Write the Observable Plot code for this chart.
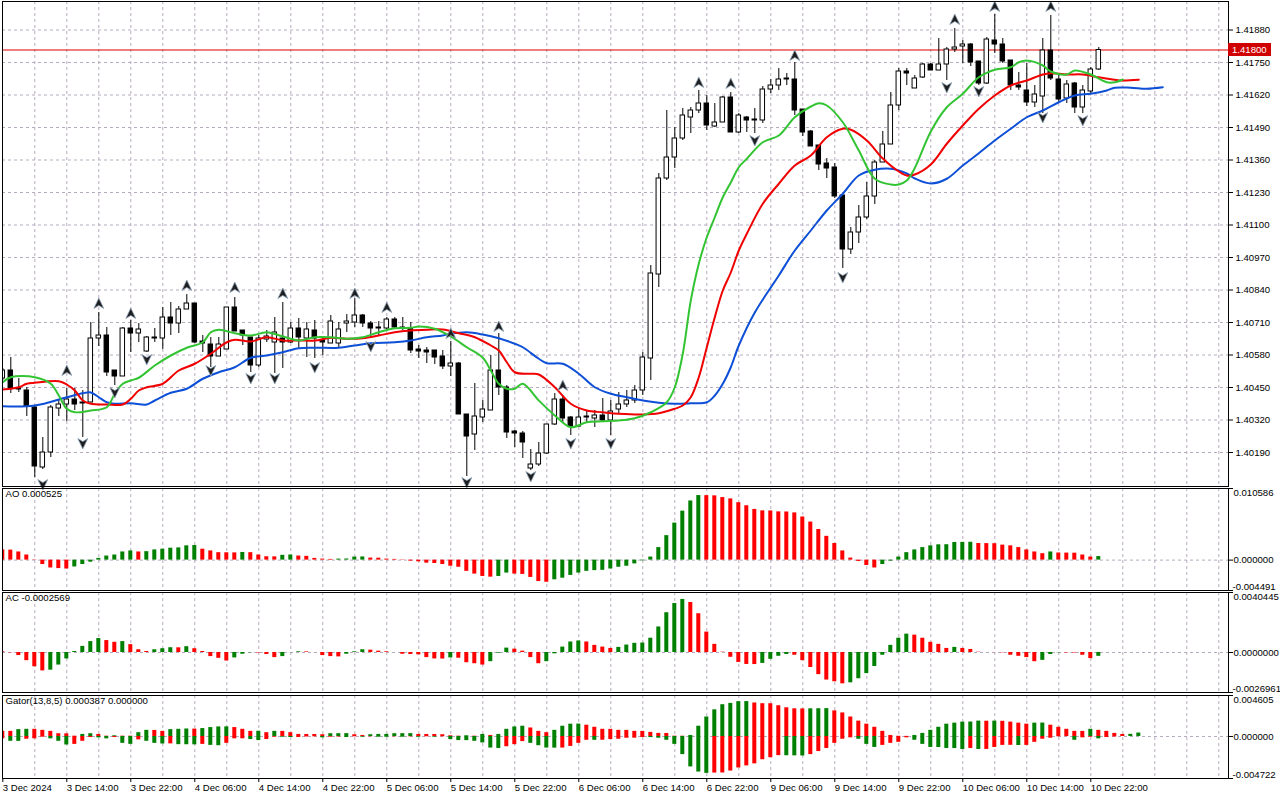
<!DOCTYPE html>
<html><head><meta charset="utf-8">
<script src="https://cdn.jsdelivr.net/npm/d3@7"></script>
<script src="https://cdn.jsdelivr.net/npm/@observablehq/plot@0.6"></script>
<style>
body{margin:0;background:#fff;}
#chart{position:relative;width:1280px;height:800px;background:#fff;overflow:hidden;}
#chart svg{position:absolute;left:0;}
</style></head><body><div id="chart"></div>
<script>
// ---------- DATA (hourly bars, 3 Dec 06:00 .. 10 Dec 23:00) ----------
const open=[1.40486,1.40518,1.40446,1.40438,1.40370,1.40130,1.40190,1.40366,1.40382,1.40402,
1.40386,1.40390,1.40646,1.40658,1.40518,1.40494,1.40686,1.40666,1.40594,1.40646,
1.40646,1.40730,1.40706,1.40762,1.40786,1.40634,1.40622,1.40574,1.40602,1.40770,
1.40678,1.40650,1.40538,1.40642,1.40630,1.40646,1.40630,1.40686,1.40646,1.40678,
1.40638,1.40626,1.40626,1.40706,1.40710,1.40738,1.40706,1.40686,1.40686,1.40722,
1.40690,1.40686,1.40602,1.40598,1.40598,1.40574,1.40534,1.40546,1.40342,1.40262,
1.40330,1.40358,1.40518,1.40450,1.40274,1.40266,1.40126,1.40142,1.40186,1.40302,
1.40402,1.40330,1.40294,1.40330,1.40326,1.40338,1.40318,1.40362,1.40382,1.40398,
1.40438,1.40566,1.40902,1.41286,1.41370,1.41446,1.41530,1.41558,1.41586,1.41494,
1.41510,1.41610,1.41470,1.41530,1.41522,1.41518,1.41642,1.41658,1.41682,1.41682,
1.41562,1.41474,1.41418,1.41346,1.41330,1.41218,1.41002,1.41070,1.41130,1.41214,
1.41350,1.41422,1.41578,1.41714,1.41646,1.41690,1.41742,1.41718,1.41742,1.41802,
1.41814,1.41822,1.41754,1.41666,1.41838,1.41822,1.41758,1.41658,1.41638,1.41590,
1.41614,1.41798,1.41682,1.41606,1.41666,1.41570,1.41634,1.41722];
const high=[1.40526,1.40570,1.40486,1.40450,1.40378,1.40250,1.40378,1.40398,1.40446,1.40446,
1.40438,1.40710,1.40750,1.40690,1.40518,1.40690,1.40718,1.40706,1.40654,1.40686,
1.40770,1.40790,1.40774,1.40822,1.40786,1.40658,1.40650,1.40650,1.40770,1.40810,
1.40678,1.40650,1.40658,1.40678,1.40730,1.40790,1.40710,1.40726,1.40710,1.40718,
1.40646,1.40738,1.40710,1.40742,1.40806,1.40742,1.40714,1.40714,1.40730,1.40730,
1.40730,1.40710,1.40618,1.40610,1.40598,1.40598,1.40634,1.40550,1.40342,1.40466,
1.40398,1.40578,1.40666,1.40458,1.40278,1.40274,1.40202,1.40230,1.40302,1.40426,
1.40418,1.40334,1.40366,1.40358,1.40358,1.40406,1.40398,1.40430,1.40438,1.40458,
1.40590,1.40938,1.41306,1.41558,1.41490,1.41566,1.41570,1.41638,1.41618,1.41586,
1.41614,1.41630,1.41546,1.41534,1.41566,1.41654,1.41682,1.41726,1.41706,1.41750,
1.41562,1.41478,1.41418,1.41366,1.41346,1.41218,1.41090,1.41178,1.41270,1.41358,
1.41474,1.41630,1.41726,1.41726,1.41698,1.41746,1.41746,1.41846,1.41810,1.41886,
1.41838,1.41826,1.41754,1.41850,1.41942,1.41846,1.41758,1.41710,1.41746,1.41658,
1.41846,1.41938,1.41698,1.41678,1.41670,1.41658,1.41730,1.41810];
const low=[1.40478,1.40426,1.40430,1.40334,1.40090,1.40122,1.40170,1.40334,1.40314,1.40358,
1.40250,1.40390,1.40614,1.40494,1.40458,1.40494,1.40590,1.40630,1.40590,1.40630,
1.40602,1.40658,1.40666,1.40762,1.40626,1.40590,1.40530,1.40574,1.40602,1.40674,
1.40618,1.40510,1.40530,1.40630,1.40506,1.40526,1.40626,1.40606,1.40570,1.40566,
1.40578,1.40626,1.40610,1.40670,1.40690,1.40690,1.40650,1.40658,1.40678,1.40686,
1.40678,1.40586,1.40566,1.40546,1.40542,1.40522,1.40494,1.40342,1.40094,1.40198,
1.40310,1.40358,1.40418,1.40246,1.40210,1.40166,1.40118,1.40134,1.40182,1.40298,
1.40306,1.40258,1.40290,1.40310,1.40290,1.40310,1.40258,1.40346,1.40370,1.40386,
1.40418,1.40478,1.40850,1.41278,1.41326,1.41438,1.41466,1.41546,1.41478,1.41490,
1.41510,1.41470,1.41466,1.41470,1.41466,1.41506,1.41626,1.41638,1.41658,1.41538,
1.41454,1.41414,1.41318,1.41286,1.41206,1.40926,1.40982,1.41026,1.41122,1.41182,
1.41350,1.41422,1.41558,1.41658,1.41646,1.41686,1.41718,1.41718,1.41678,1.41790,
1.41746,1.41734,1.41658,1.41662,1.41786,1.41746,1.41638,1.41638,1.41574,1.41570,
1.41546,1.41678,1.41590,1.41586,1.41546,1.41546,1.41626,1.41718];
const close=[1.40518,1.40446,1.40442,1.40374,1.40134,1.40190,1.40370,1.40382,1.40402,1.40382,
1.40390,1.40646,1.40658,1.40510,1.40494,1.40686,1.40666,1.40682,1.40650,1.40650,
1.40730,1.40706,1.40762,1.40786,1.40630,1.40626,1.40574,1.40622,1.40770,1.40674,
1.40658,1.40538,1.40646,1.40654,1.40670,1.40630,1.40686,1.40650,1.40682,1.40646,
1.40630,1.40714,1.40682,1.40714,1.40738,1.40706,1.40686,1.40690,1.40722,1.40690,
1.40686,1.40598,1.40594,1.40590,1.40570,1.40534,1.40546,1.40342,1.40254,1.40334,
1.40362,1.40518,1.40450,1.40270,1.40266,1.40230,1.40142,1.40186,1.40302,1.40402,
1.40326,1.40294,1.40330,1.40334,1.40338,1.40318,1.40354,1.40382,1.40398,1.40438,
1.40570,1.40906,1.41286,1.41370,1.41446,1.41538,1.41558,1.41586,1.41498,1.41510,
1.41610,1.41470,1.41538,1.41518,1.41518,1.41642,1.41658,1.41682,1.41686,1.41558,
1.41470,1.41414,1.41342,1.41326,1.41214,1.41002,1.41070,1.41130,1.41214,1.41350,
1.41422,1.41578,1.41714,1.41706,1.41686,1.41742,1.41718,1.41742,1.41802,1.41810,
1.41822,1.41750,1.41666,1.41842,1.41822,1.41754,1.41658,1.41650,1.41590,1.41622,
1.41798,1.41686,1.41602,1.41662,1.41570,1.41638,1.41722,1.41800];

// Alligator (read at sampled bars; lines run past the last bar because of their shifts)
const jawIdx=[0,4,8,10,11,12,13,14,16,18,19,21,23,25,27,29,31,33,35,37,39,42,44,46,49,51,53,55,56,58,60,62,64,65,67,68,70,72,74,76,78,80,82,84,86,88,89,90,91,92,94,97,99,101,103,105,107,109,111,113,114,116,118,120,122,124,126,128,130,132,134,136,138,139,141,143,145];
const jawVal=[1.40375,1.40378,1.40411,1.40427,1.40430,1.40411,1.40391,1.40385,1.40387,1.40382,1.40398,1.40429,1.40445,1.40485,1.40511,1.40531,1.40569,1.40578,1.40591,1.40607,1.40609,1.40609,1.40618,1.40627,1.40631,1.40638,1.40651,1.40658,1.40665,1.40671,1.40662,1.40647,1.40625,1.40611,1.40565,1.40547,1.40545,1.40505,1.40451,1.40425,1.40411,1.40398,1.40389,1.40385,1.40387,1.40391,1.40418,1.40465,1.40531,1.40618,1.40750,1.40898,1.40998,1.41078,1.41158,1.41225,1.41298,1.41321,1.41325,1.41306,1.41286,1.41266,1.41285,1.41338,1.41387,1.41438,1.41485,1.41531,1.41558,1.41591,1.41618,1.41625,1.41638,1.41649,1.41649,1.41645,1.41651];
const teethIdx=[0,2,3,4,7,8,9,10,11,13,15,16,17,18,20,22,24,26,28,29,31,33,35,37,39,41,43,45,47,49,51,53,55,57,59,61,62,63,64,66,67,69,71,73,75,77,80,82,84,85,86,87,88,89,90,91,92,93,95,97,99,101,103,105,106,108,110,112,113,114,116,118,120,122,124,126,128,130,131,133,135,137,139,140,142];
const teethVal=[1.40442,1.40451,1.40465,1.40469,1.40475,1.40462,1.40438,1.40398,1.40385,1.40382,1.40382,1.40405,1.40438,1.40451,1.40465,1.40518,1.40545,1.40585,1.40631,1.40641,1.40634,1.40651,1.40638,1.40638,1.40638,1.40649,1.40645,1.40647,1.40658,1.40671,1.40678,1.40681,1.40682,1.40667,1.40651,1.40618,1.40598,1.40551,1.40511,1.40505,1.40502,1.40451,1.40385,1.40358,1.40351,1.40345,1.40342,1.40347,1.40365,1.40378,1.40411,1.40491,1.40611,1.40731,1.40838,1.40910,1.40998,1.41065,1.41185,1.41265,1.41338,1.41378,1.41451,1.41485,1.41481,1.41438,1.41366,1.41314,1.41298,1.41302,1.41342,1.41425,1.41498,1.41565,1.41618,1.41658,1.41678,1.41702,1.41707,1.41702,1.41702,1.41691,1.41681,1.41678,1.41681];
const lipsIdx=[0,1,4,6,7,8,9,11,13,14,15,16,17,19,21,23,25,26,27,29,31,33,35,37,39,41,43,45,47,49,51,52,54,56,58,60,61,62,63,64,65,67,69,71,73,75,77,79,81,83,84,85,86,87,88,89,90,91,92,93,95,97,99,101,102,103,105,107,109,111,112,113,114,116,118,120,122,124,126,127,128,130,131,133,134,136,138,139,140];
const lipsVal=[1.40471,1.40491,1.40491,1.40465,1.40418,1.40365,1.40351,1.40358,1.40371,1.40425,1.40465,1.40478,1.40489,1.40538,1.40578,1.40609,1.40631,1.40671,1.40681,1.40667,1.40658,1.40671,1.40654,1.40638,1.40651,1.40651,1.40645,1.40651,1.40671,1.40687,1.40689,1.40694,1.40685,1.40654,1.40611,1.40569,1.40518,1.40465,1.40445,1.40445,1.40465,1.40398,1.40338,1.40291,1.40311,1.40315,1.40318,1.40327,1.40351,1.40391,1.40451,1.40585,1.40798,1.40945,1.41051,1.41131,1.41211,1.41270,1.41331,1.41365,1.41431,1.41458,1.41531,1.41574,1.41587,1.41578,1.41511,1.41398,1.41285,1.41262,1.41262,1.41278,1.41328,1.41474,1.41571,1.41625,1.41691,1.41721,1.41731,1.41751,1.41758,1.41738,1.41714,1.41702,1.41718,1.41702,1.41671,1.41671,1.41682];

// Fractals (arrow positions)
const fracUpIdx=[8,12,16,23,29,35,44,48,56,62,70,87,91,99,119,124,131];
const fracUpVal=[1.40518,1.40786,1.40746,1.40858,1.40850,1.40826,1.40826,1.40770,1.40666,1.40694,1.40458,1.41670,1.41666,1.41778,1.41922,1.41974,1.41974];
const fracDnIdx=[5,10,14,18,26,31,34,39,46,58,66,71,76,94,105,118,122,130,135];
const fracDnVal=[1.40062,1.40226,1.40430,1.40562,1.40518,1.40486,1.40486,1.40530,1.40614,1.40070,1.40094,1.40226,1.40226,1.41438,1.40890,1.41650,1.41634,1.41530,1.41518];

// Awesome Oscillator
const ao=[0.001508,0.001477,0.001206,0.000754,-0.000045,-0.000648,-0.001161,-0.001251,-0.001312,-0.001010,
-0.000648,-0.000302,0.000256,0.000603,0.000754,0.001206,0.001357,0.001206,0.001251,0.001508,
0.001613,0.001764,0.001809,0.002111,0.002156,0.001613,0.001357,0.001101,0.001085,0.001070,
0.001131,0.001101,0.000754,0.000498,0.000482,0.000709,0.000754,0.000603,0.000558,0.000256,
0.000151,0.000106,0.000151,0.000166,0.000452,0.000467,0.000302,0.000286,0.000151,0.000106,
-0.000045,-0.000151,-0.000256,-0.000452,-0.000498,-0.000648,-0.000905,-0.001055,-0.001658,-0.002065,
-0.002412,-0.002518,-0.002412,-0.001915,-0.002065,-0.002111,-0.002563,-0.003166,-0.003272,-0.002910,
-0.002668,-0.002261,-0.001915,-0.001658,-0.001553,-0.001508,-0.001312,-0.001055,-0.000905,-0.000558,
-0.000106,0.000452,0.001854,0.003618,0.005473,0.007236,0.008744,0.009543,0.009528,0.009498,
0.009242,0.009046,0.008488,0.008035,0.007493,0.007282,0.007267,0.007131,0.007116,0.006980,
0.006377,0.005623,0.004523,0.003513,0.002457,0.001357,0.000302,-0.000196,-0.000799,-0.001161,
-0.000648,-0.000151,0.000452,0.001101,0.001508,0.001854,0.002111,0.002261,0.002276,0.002608,
0.002623,0.002638,0.002457,0.002442,0.002427,0.002216,0.002111,0.001854,0.001508,0.001206,
0.000950,0.001206,0.001055,0.001040,0.001025,0.000754,0.000452,0.000525];
// Accelerator Oscillator
const ac=[0.0000481,-0.0000206,-0.0002063,-0.0005502,-0.0009629,-0.0012380,-0.0011899,-0.0008460,-0.0004333,0.0000688,
0.0004127,0.0007359,0.0009423,0.0008047,0.0006878,0.0007359,0.0005296,0.0001857,0.0000688,0.0001857,
0.0002545,0.0003233,0.0003164,0.0003920,0.0002545,0.0000688,-0.0002751,-0.0003920,-0.0005709,-0.0003645,
-0.0001169,-0.0000206,-0.0000344,-0.0001376,-0.0003439,-0.0002751,-0.0000069,0.0000481,0.0000413,-0.0000020,
-0.0002063,-0.0002751,-0.0002958,-0.0001169,0.0000481,0.0001857,0.0001582,0.0000894,0.0000481,0.0000000,
-0.0001169,-0.0001376,-0.0001582,-0.0003439,-0.0004333,-0.0004402,-0.0003645,-0.0003852,-0.0006878,-0.0007566,
-0.0008460,-0.0006190,-0.0000481,0.0002958,0.0002270,0.0000894,-0.0003439,-0.0007566,-0.0006190,-0.0000894,
0.0003645,0.0007084,0.0007772,0.0007084,0.0004815,0.0003645,0.0002751,0.0003439,0.0005021,0.0006190,
0.0006397,0.0009629,0.0017195,0.0026824,0.0033014,0.0035766,0.0033702,0.0026136,0.0013756,0.0005502,
0.0000206,-0.0003233,-0.0006672,-0.0008047,-0.0008116,-0.0007359,-0.0004608,-0.0002545,-0.0001376,-0.0001857,
-0.0005502,-0.0010111,-0.0014925,-0.0018571,-0.0019740,-0.0021115,-0.0020428,-0.0017676,-0.0014237,-0.0009423,
-0.0001857,0.0004815,0.0009629,0.0012380,0.0011693,0.0009629,0.0006878,0.0005502,0.0002751,0.0003439,
0.0002751,0.0002063,0.0000206,0.0000000,-0.0000069,-0.0000206,-0.0001857,-0.0002545,-0.0003439,-0.0006190,
-0.0005296,-0.0001376,-0.0000206,-0.0000275,-0.0000344,-0.0001857,-0.0004127,-0.0002569];
// Gator Oscillator (upper |jaw-teeth|, lower -|teeth-lips|)
const gatorUp=[0.000576,0.000576,0.000772,0.000806,0.000806,0.000691,0.000576,0.000311,0.000299,0.000035,
0.000230,0.000311,0.000230,0.000035,0.000081,0.000035,0.000035,0.000426,0.000691,0.000680,
0.000576,0.000772,0.000806,0.000841,0.000830,0.000887,0.001002,0.001071,0.001080,0.001002,
0.000806,0.000576,0.000590,0.000426,0.000576,0.000570,0.000426,0.000230,0.000225,0.000220,
0.000196,0.000311,0.000315,0.000320,0.000196,0.000115,0.000196,0.000230,0.000235,0.000311,
0.000315,0.000320,0.000230,0.000225,0.000220,0.000196,0.000081,0.000035,0.000081,0.000035,
0.000230,0.000115,0.000230,0.000806,0.001071,0.001152,0.000956,0.000576,0.000426,0.000691,
0.001152,0.001382,0.001393,0.001267,0.001036,0.000806,0.000800,0.000691,0.000685,0.000576,
0.000570,0.000461,0.000345,0.000340,0.000035,0.000030,0.000115,0.001152,0.002188,0.002994,
0.003570,0.003719,0.003915,0.003925,0.003765,0.003685,0.003680,0.003455,0.003224,0.003109,
0.003098,0.003109,0.003121,0.003132,0.002879,0.002648,0.002188,0.001727,0.001382,0.001036,
0.000576,0.000115,0.000023,0.000012,0.000115,0.000345,0.000691,0.001036,0.001382,0.001497,
0.001612,0.001624,0.001727,0.001716,0.001727,0.001704,0.001612,0.001497,0.001382,0.001497,
0.001508,0.001267,0.001036,0.000806,0.000576,0.000570,0.000806,0.000691,0.000576,0.000345,
0.000230,0.000242,0.000387];
const gatorDown=[-0.000265,-0.000541,-0.000550,-0.000311,-0.000265,-0.000081,-0.000265,-0.000541,-0.000956,-0.000887,
-0.000541,-0.000115,-0.000150,-0.000265,-0.000115,-0.000772,-0.000887,-0.000380,-0.000541,-0.000772,
-0.000841,-0.000830,-0.000921,-0.000930,-0.000940,-0.000887,-0.001002,-0.001036,-0.000772,-0.000265,
-0.000260,-0.000345,-0.000461,-0.000345,-0.000081,-0.000085,-0.000115,-0.000110,-0.000058,-0.000035,
-0.000150,-0.000081,-0.000058,-0.000115,-0.000035,-0.000081,-0.000035,-0.000081,-0.000085,-0.000035,
-0.000081,-0.000035,-0.000081,-0.000035,-0.000081,-0.000035,-0.000345,-0.000461,-0.000465,-0.000541,
-0.000725,-0.001301,-0.001347,-0.001152,-0.000921,-0.000576,-0.000772,-0.001036,-0.001301,-0.001310,
-0.001301,-0.001117,-0.000772,-0.000426,-0.000430,-0.000420,-0.000345,-0.000311,-0.000196,-0.000190,
-0.000115,-0.000120,-0.000196,-0.000426,-0.000887,-0.002038,-0.003420,-0.003996,-0.004145,-0.004111,
-0.004099,-0.003881,-0.003535,-0.003305,-0.003075,-0.002614,-0.002384,-0.002153,-0.002165,-0.002176,
-0.002188,-0.002038,-0.001693,-0.001347,-0.000772,-0.000311,-0.000150,-0.000311,-0.000887,-0.001232,
-0.001002,-0.000772,-0.000656,-0.000150,-0.000426,-0.000887,-0.001232,-0.001240,-0.001347,-0.001355,
-0.001462,-0.001347,-0.001462,-0.001455,-0.001232,-0.001002,-0.000995,-0.001013,-0.001002,-0.000656,
-0.000311,-0.000196,-0.000035,-0.000012,-0.000426,-0.000150,-0.000081,-0.000265,-0.000115,-0.000058,
0];

// Scale / tick labels
const priceTicks=[1.40190,1.40320,1.40450,1.40580,1.40710,1.40840,1.40970,1.41100,1.41230,1.41360,1.41490,1.41620,1.41750,1.41880];
const currentPrice=1.41800;
const aoRange=[-0.004491,0.010586], aoLabels=["-0.004491","0.000000","0.010586"];
const acRange=[-0.0026961,0.0040445], acLabels=["-0.0026961","0.0000000","0.0040445"];
const gatorRange=[-0.004722,0.004605], gatorLabels=["-0.004722","0.000000","0.004605"];
const dateTicks=[0,8,16,24,32,40,48,56,64,72,80,88,96,104,112,120,128,136];
const dateLabels=["3 Dec 2024","3 Dec 14:00","3 Dec 22:00","4 Dec 06:00","4 Dec 14:00","4 Dec 22:00","5 Dec 06:00","5 Dec 14:00","5 Dec 22:00","6 Dec 06:00","6 Dec 14:00","6 Dec 22:00","9 Dec 06:00","9 Dec 14:00","9 Dec 22:00","10 Dec 06:00","10 Dec 14:00","10 Dec 22:00"];
const gridBars=d3.range(4,153,4);

// ---------- RENDER ----------
const FONT="'Liberation Sans', Arial, sans-serif";
const FS=9.6;
const GRID="#b7abbf", GREEN="#008000", RED="#ff0000";
const xDomain=[-0.0375,153.2125];
const root=document.getElementById("chart");
function place(svg,top){svg.style.position="absolute";svg.style.top=top+"px";svg.style.left="0px";root.appendChild(svg);return svg;}
function baseOpts(height,mt,mb,ydom,xaxis){
  return {width:1280,height,marginLeft:2,marginRight:52,marginTop:mt,marginBottom:mb,
    x:xaxis?{domain:xDomain,label:null}:{domain:xDomain,axis:null,label:null},
    y:{domain:ydom,label:null},color:{type:"identity"},
    style:{fontFamily:FONT,fontSize:FS+"px",color:"#000",background:"transparent",overflow:"visible"}};
}
const candles=close.map((c,i)=>({i,o:open[i],h:high[i],l:low[i],c,up:c>=open[i]}));
const toPts=(idx,val)=>idx.map((i,k)=>({i,v:val[k]}));
const arrowUp={draw(ctx,size){const r=Math.sqrt(size/Math.PI);ctx.moveTo(0,-r);ctx.lineTo(0.9*r,0.9*r);ctx.lineTo(0,0.35*r);ctx.lineTo(-0.9*r,0.9*r);ctx.closePath();}};
const arrowDn={draw(ctx,size){const r=Math.sqrt(size/Math.PI);ctx.moveTo(0,r);ctx.lineTo(0.9*r,-0.9*r);ctx.lineTo(0,-0.35*r);ctx.lineTo(-0.9*r,-0.9*r);ctx.closePath();}};

const main=Plot.plot({...baseOpts(487,1,1,[1.40054,1.41994],false),
  marks:[
    Plot.ruleY(priceTicks,{stroke:GRID,strokeDasharray:"3,3"}),
    Plot.ruleX(gridBars,{stroke:GRID,strokeDasharray:"3,3"}),
    Plot.ruleY([currentPrice],{stroke:"#e00000"}),
    Plot.ruleX(candles,{x:"i",y1:"l",y2:"h",stroke:"#000",clip:true}),
    Plot.rect(candles,{x1:d=>d.i-0.28,x2:d=>d.i+0.28,y1:"o",y2:"c",fill:d=>d.up?"#fff":"#000",stroke:"#000",clip:true}),
    Plot.line(toPts(jawIdx,jawVal),{x:"i",y:"v",stroke:"#0d4fd6",strokeWidth:2,curve:"catmull-rom"}),
    Plot.line(toPts(teethIdx,teethVal),{x:"i",y:"v",stroke:"#f00000",strokeWidth:2,curve:"catmull-rom"}),
    Plot.line(toPts(lipsIdx,lipsVal),{x:"i",y:"v",stroke:"#33c433",strokeWidth:2,curve:"catmull-rom"}),
    Plot.dot(toPts(fracUpIdx,fracUpVal),{x:"i",y:"v",symbol:arrowUp,r:5.5,fill:"#1e1e1e",stroke:"#8fa3b8",strokeWidth:0.8}),
    Plot.dot(toPts(fracDnIdx,fracDnVal),{x:"i",y:"v",symbol:arrowDn,r:5.5,fill:"#1e1e1e",stroke:"#8fa3b8",strokeWidth:0.8}),
    Plot.axisY(priceTicks,{anchor:"right",label:null,tickSize:4,tickPadding:3,tickFormat:d=>d.toFixed(5),fontSize:FS}),
    Plot.frame({stroke:"#000"})
  ]});
place(main,0);
{
  const yc=main.scale("y").apply(currentPrice);
  const g=d3.select(main).append("g");
  g.append("rect").attr("x",1228).attr("y",yc-6.5).attr("width",43).attr("height",13).attr("fill","#d00000");
  g.append("text").attr("x",1232).attr("y",yc).attr("dy","0.35em").attr("fill","#fff").attr("text-anchor","start")
    .attr("font-family",FONT).attr("font-size",FS).text(currentPrice.toFixed(5));
}

function histData(vals,first,byMagnitude){
  return vals.map((v,i)=>{
    let up;
    if(i===0) up=first; else up=byMagnitude?Math.abs(v)>Math.abs(vals[i-1]):v>vals[i-1];
    return {i,v,col:up?GREEN:RED};
  });
}
function subPanel({top,height,mb,range,labels,title,series,xaxis}){
  const marks=[
    Plot.ruleX(gridBars,{stroke:GRID,strokeDasharray:"3,3"}),
    Plot.ruleY([0],{stroke:GRID,strokeDasharray:"3,3"})
  ];
  for(const s of series) marks.push(Plot.rect(s,{x1:d=>d.i-0.25,x2:d=>d.i+0.25,y1:0,y2:"v",fill:"col",clip:true}));
  marks.push(
    Plot.axisY([range[0],0,range[1]],{anchor:"right",label:null,tickSize:4,tickFormat:()=>""}),
    Plot.text([range[1]],{y:d=>d,text:()=>labels[2],frameAnchor:"right",textAnchor:"start",dx:5,dy:4}),
    Plot.text([0],{y:d=>d,text:()=>labels[1],frameAnchor:"right",textAnchor:"start",dx:5}),
    Plot.text([range[0]],{y:d=>d,text:()=>labels[0],frameAnchor:"right",textAnchor:"start",dx:4,dy:-4}),
    Plot.text([title],{frameAnchor:"top-left",textAnchor:"start",lineAnchor:"top",dx:3,dy:2}),
    Plot.frame({stroke:"#000"})
  );
  if(xaxis) marks.push(Plot.axisX(dateTicks,{anchor:"bottom",label:null,tickSize:4,tickPadding:2,textAnchor:"start",dx:0,tickFormat:d=>dateLabels[dateTicks.indexOf(d)],fontSize:FS}));
  return place(Plot.plot({...baseOpts(height,1,mb,range,xaxis),marks}),top);
}
subPanel({top:487,height:104,mb:1,range:aoRange,labels:aoLabels,
  title:`AO ${ao[ao.length-1].toFixed(6)}`,series:[histData(ao,false,false)]});
subPanel({top:591,height:102,mb:1,range:acRange,labels:acLabels,
  title:`AC ${ac[ac.length-1].toFixed(7)}`,series:[histData(ac,false,false)]});
subPanel({top:694,height:106,mb:22,range:gatorRange,labels:gatorLabels,xaxis:true,
  title:`Gator(13,8,5) ${gatorUp[gatorUp.length-1].toFixed(6)} ${Math.abs(gatorDown[gatorDown.length-1]).toFixed(6)}`,
  series:[histData(gatorUp,false,false),histData(gatorDown,false,true)]});
</script></body></html>
